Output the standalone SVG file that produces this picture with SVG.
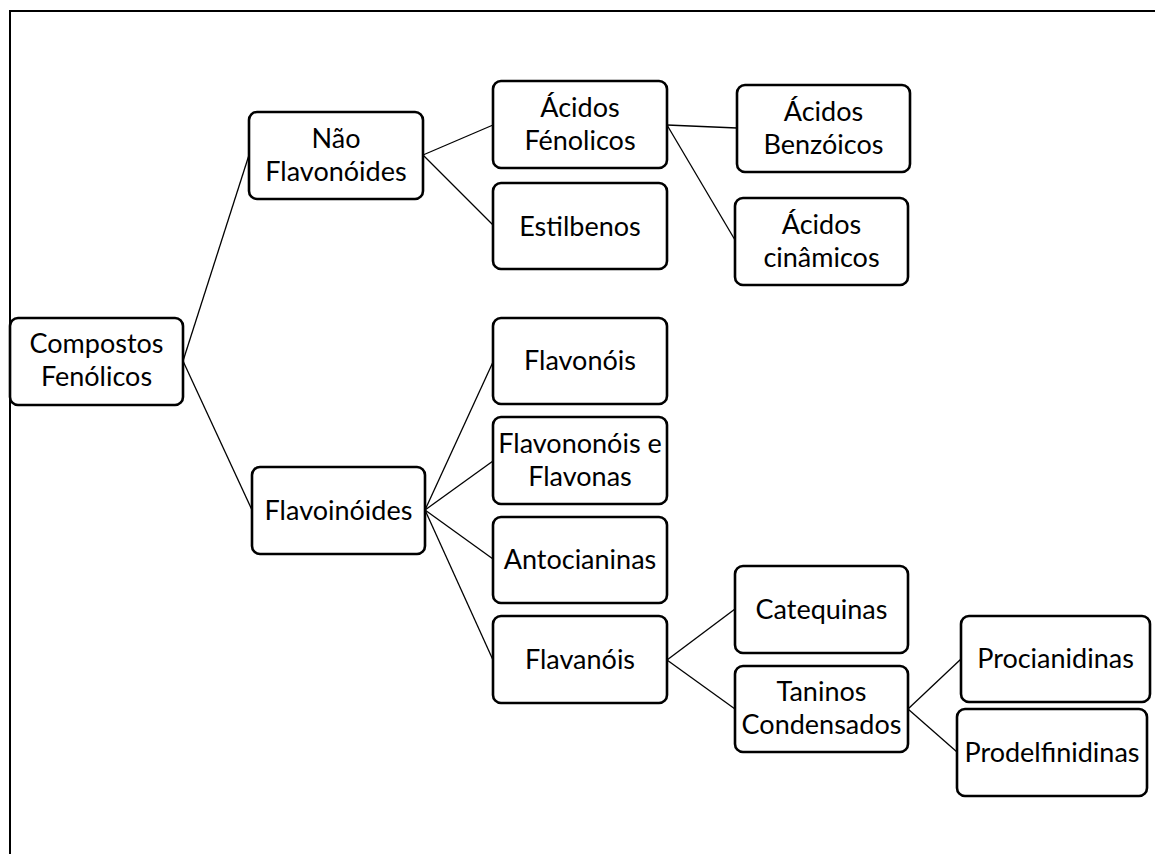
<svg xmlns="http://www.w3.org/2000/svg" width="1155" height="854" viewBox="0 0 1155 854">
<style>
.box{fill:#fff;stroke:#000;stroke-width:2.6}
.t{font-family:Lato,"Liberation Sans",sans-serif;font-size:27px;fill:#000;text-anchor:middle}
.c line{stroke:#000;stroke-width:1.3}
</style>
<rect x="0" y="0" width="1155" height="854" fill="#fff"/>
<path d="M10,854 V11 H1155" fill="none" stroke="#000" stroke-width="2"/>
<g class="c" id="connectors">
<line x1="183" y1="361" x2="249" y2="155"/>
<line x1="183" y1="361" x2="252" y2="510"/>
<line x1="423" y1="155" x2="493" y2="125"/>
<line x1="423" y1="155" x2="493" y2="225"/>
<line x1="667" y1="125" x2="737" y2="128"/>
<line x1="667" y1="125" x2="735" y2="240"/>
<line x1="425" y1="510" x2="493" y2="362"/>
<line x1="425" y1="510" x2="493" y2="461"/>
<line x1="425" y1="510" x2="493" y2="559"/>
<line x1="425" y1="510" x2="493" y2="660"/>
<line x1="667" y1="660" x2="735" y2="609"/>
<line x1="667" y1="660" x2="735" y2="709"/>
<line x1="908" y1="709" x2="961" y2="659"/>
<line x1="908" y1="709" x2="957" y2="752"/>
</g>
<g id="compostos"><rect class="box" x="10" y="318" width="173" height="87" rx="8"/><text class="t" x="96.5" y="353">Compostos</text><text class="t" x="96.5" y="386">Fenólicos</text></g>
<g id="nao-flavonoides"><rect class="box" x="249" y="112" width="174" height="87" rx="8"/><text class="t" x="336" y="148">Não</text><text class="t" x="336" y="181">Flavonóides</text></g>
<g id="acidos-fenolicos"><rect class="box" x="493" y="81" width="174" height="87" rx="8"/><text class="t" x="580" y="117">Ácidos</text><text class="t" x="580" y="150">Fénolicos</text></g>
<g id="estilbenos"><rect class="box" x="493" y="183" width="174" height="86" rx="8"/><text class="t" x="580" y="236">Estilbenos</text></g>
<g id="acidos-benzoicos"><rect class="box" x="737" y="85" width="173" height="87" rx="8"/><text class="t" x="823.5" y="121">Ácidos</text><text class="t" x="823.5" y="154">Benzóicos</text></g>
<g id="acidos-cinamicos"><rect class="box" x="735" y="198" width="173" height="87" rx="8"/><text class="t" x="821.5" y="234">Ácidos</text><text class="t" x="821.5" y="267">cinâmicos</text></g>
<g id="flavoinoides"><rect class="box" x="252" y="467" width="173" height="87" rx="8"/><text class="t" x="338.5" y="520">Flavoinóides</text></g>
<g id="flavonois"><rect class="box" x="493" y="318" width="174" height="86" rx="8"/><text class="t" x="580" y="370">Flavonóis</text></g>
<g id="flavononois"><rect class="box" x="493" y="417" width="174" height="87" rx="8"/><text class="t" x="580" y="453">Flavononóis e</text><text class="t" x="580" y="486">Flavonas</text></g>
<g id="antocianinas"><rect class="box" x="493" y="517" width="174" height="86" rx="8"/><text class="t" x="580" y="569">Antocianinas</text></g>
<g id="flavanois"><rect class="box" x="493" y="616" width="174" height="87" rx="8"/><text class="t" x="580" y="669">Flavanóis</text></g>
<g id="catequinas"><rect class="box" x="735" y="566" width="173" height="87" rx="8"/><text class="t" x="821.5" y="619">Catequinas</text></g>
<g id="taninos"><rect class="box" x="735" y="666" width="173" height="86" rx="8"/><text class="t" x="821.5" y="701">Taninos</text><text class="t" x="821.5" y="734">Condensados</text></g>
<g id="procianidinas"><rect class="box" x="961" y="616" width="189" height="86" rx="8"/><text class="t" x="1055.5" y="668">Procianidinas</text></g>
<g id="prodelfinidinas"><rect class="box" x="957" y="709" width="190" height="87" rx="8"/><text class="t" x="1052" y="762">Prodelfinidinas</text></g>
</svg>
